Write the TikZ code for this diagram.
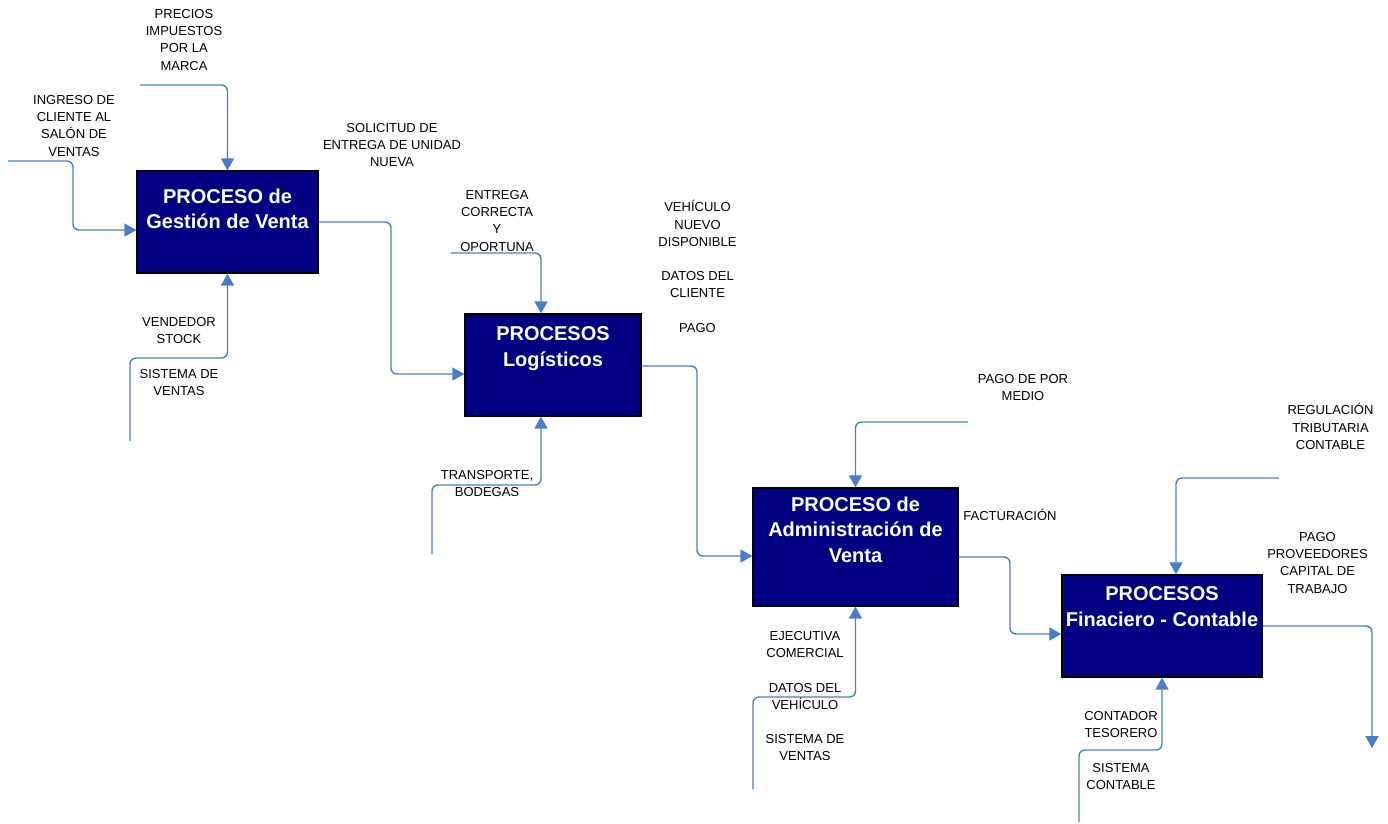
\documentclass[tikz,border=0pt]{standalone}
\usepackage{fontspec}
\setmainfont{Liberation Sans}
\usetikzlibrary{arrows.meta,calc}
\definecolor{flowblue}{HTML}{4A7EC4}
\definecolor{boxnavy}{HTML}{000080}
\tikzset{
  procbox/.style={draw=black, line width=1.2pt, fill=boxnavy, inner sep=0pt},
  proctext/.style={text=white, font=\fontsize{20}{25.5}\selectfont\bfseries,
    align=center, inner sep=0pt, anchor=north},
  lbl/.style={text=black, font=\fontsize{13}{17.2}\selectfont,
    align=center, inner sep=0pt, anchor=north},
  flow/.style={draw=flowblue, line width=1.4pt, rounded corners=6pt,
    -{Triangle[width=13pt,length=12pt]}}
}
\begin{document}
\begin{tikzpicture}[x=1pt,y=-1pt]
\useasboundingbox (0,0) rectangle (1388,823);

% process boxes
\node[procbox, minimum width=181pt, minimum height=102pt] (b1) at (227.5,222) {};
\node[procbox, minimum width=176pt, minimum height=102pt] (b2) at (553,365) {};
\node[procbox, minimum width=205pt, minimum height=118pt] (b3) at (855.5,547) {};
\node[procbox, minimum width=200pt, minimum height=102pt] (b4) at (1162,626) {};

\node[proctext] (t1) at (227.5,188.3) {PROCESO de\\Gestión de Venta};
\node[proctext] (t2) at (553,326.7) {PROCESOS\\Logísticos};
\node[proctext] (t3) at (855.5,496.5) {PROCESO de\\Administración de\\Venta};
\node[proctext] (t4) at (1162,586.7) {PROCESOS\\Finaciero - Contable};

% free ends of the connectors
\coordinate (inPrecios) at (140,85);
\coordinate (inIngreso) at (8,161);
\coordinate (inVendedor) at (130,441);
\coordinate (inEntrega) at (451,253);
\coordinate (inTransp) at (432,554);
\coordinate (inPagoMedio) at (968,422);
\coordinate (inEjec) at (753,789);
\coordinate (inRegul) at (1279,478);
\coordinate (inContador) at (1079,822);
\coordinate (outPago) at (1372,748);

% connectors
\draw[flow] (inPrecios) -- (227.5,85) -- (b1.north);
\draw[flow] (inIngreso) -- (73,161) -- (73,230) -- ($(b1.west)+(0,8)$);
\draw[flow] (inVendedor) -- (130,358) -- (227.5,358) -- (b1.south);
\draw[flow] (b1.east) -- (391,222) -- (391,374) -- ($(b2.west)+(0,9)$);

\draw[flow] (inEntrega) -- (541,253) -- ($(b2.north)+(-12,0)$);
\draw[flow] (inTransp) -- (432,485) -- (541,485) -- ($(b2.south)+(-12,0)$);
\draw[flow] ($(b2.east)+(0,1)$) -- (697,366) -- (697,556) -- ($(b3.west)+(0,9)$);

\draw[flow] (inPagoMedio) -- (855.5,422) -- (b3.north);
\draw[flow] (inEjec) -- (753,697) -- (855.5,697) -- (b3.south);
\draw[flow] ($(b3.east)+(0,10)$) -- (1010,557) -- (1010,634) -- ($(b4.west)+(0,8)$);

\draw[flow] (inRegul) -- (1176,478) -- ($(b4.north)+(14,0)$);
\draw[flow] (inContador) -- (1079,750) -- (1162,750) -- (b4.south);
\draw[flow] (b4.east) -- (1372,626) -- (outPago);

% labels
\node[lbl] (lPrecios) at (184,9.3) {PRECIOS\\IMPUESTOS\\POR LA\\MARCA};
\node[lbl] (lIngreso) at (74,95.3) {INGRESO DE\\CLIENTE AL\\SALÓN DE\\VENTAS};
\node[lbl] (lSolicitud) at (392,123.3) {SOLICITUD DE\\ENTREGA DE UNIDAD\\NUEVA};
\node[lbl] (lEntrega) at (497,190.3) {ENTREGA\\CORRECTA\\Y\\OPORTUNA};
\node[lbl] (lVehiculo) at (697.5,200.5) {VEHÍCULO\\NUEVO\\DISPONIBLE\\[17.2pt]DATOS DEL\\CLIENTE\\[17.2pt]PAGO};
\node[lbl] (lVendedor) at (179,317.3) {VENDEDOR\\STOCK\\[17.2pt]SISTEMA DE\\VENTAS};
\node[lbl] (lTransp) at (487,470.3) {TRANSPORTE,\\BODEGAS};
\node[lbl] (lPagoMedio) at (1023,374.3) {PAGO DE POR\\MEDIO};
\node[lbl] (lFact) at (1010,509.5) {FACTURACIÓN};
\node[lbl] (lRegul) at (1330.5,403.5) {REGULACIÓN\\TRIBUTARIA\\CONTABLE};
\node[lbl] (lPagoProv) at (1317.5,532.3) {PAGO\\PROVEEDORES\\CAPITAL DE\\TRABAJO};
\node[lbl] (lEjec) at (805,631.3) {EJECUTIVA\\COMERCIAL\\[17.2pt]DATOS DEL\\VEHÍCULO\\[17.2pt]SISTEMA DE\\VENTAS};
\node[lbl] (lContador) at (1121,711.3) {CONTADOR\\TESORERO\\[17.2pt]SISTEMA\\CONTABLE};
\end{tikzpicture}
\end{document}
